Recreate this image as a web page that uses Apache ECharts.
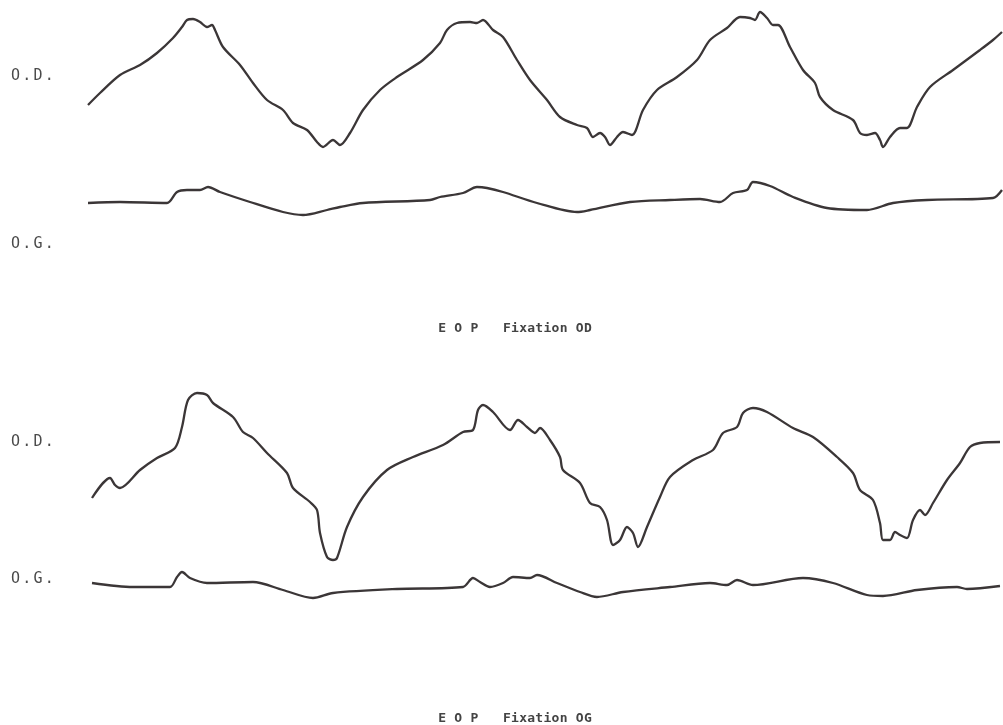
<!DOCTYPE html>
<html>
<head>
<meta charset="utf-8">
<style>
  html, body { margin: 0; padding: 0; background: #ffffff; }
  #chart { width: 1003px; height: 725px; }
</style>
<script src="https://cdn.jsdelivr.net/npm/echarts@6/dist/echarts.min.js"></script>
</head>
<body>
<div id="chart"></div>
<script>
// Traces read from the scanned record: [time, deflection] (deflection measured downward on the page scale)
var fixOD_OD = [[88,105],[100,93],[120,75],[140,65],[157,53],[173,38],[182,27],[187,20],[193,19],[200,22],[207,27],[212,25],[215,30],[223,47],[240,65],[253,83],[267,100],[283,110],[293,123],[307,130],[317,142],[323,147],[333,140],[340,145],[350,133],[363,110],[380,90],[397,77],[423,60],[440,43],[447,30],[457,23],[470,22],[477,23],[483,20],[493,30],[503,37],[517,60],[530,80],[547,100],[560,117],[577,125],[587,128],[593,137],[600,133],[605,137],[610,145],[617,137],[623,132],[632,135],[643,110],[657,90],[677,77],[697,60],[710,40],[727,28],[740,17],[750,18],[755,20],[760,12],[767,18],[773,25],[778,25],[790,47],[803,70],[815,83],[820,97],[833,110],[853,120],[860,133],[867,135],[875,133],[880,140],[883,147],[890,137],[900,128],[907,128],[917,107],[930,87],[953,70],[980,50],[993,40],[1002,32]];
var fixOD_OG = [[88,203],[120,202],[167,203],[177,192],[187,190],[200,190],[208,187],[220,192],[250,202],[283,212],[303,215],[327,210],[340,207],[363,203],[430,200],[440,197],[463,193],[477,187],[487,188],[503,192],[537,203],[577,212],[590,210],[630,202],[670,200],[700,199],[720,202],[733,193],[747,190],[753,182],[770,186],[793,197],[827,208],[867,210],[893,203],[927,200],[993,198],[1002,190]];
var fixOG_OD = [[92,498],[110,478],[115,485],[120,488],[140,470],[157,458],[175,448],[182,427],[188,400],[197,393],[207,395],[213,403],[233,417],[243,432],[253,438],[267,453],[287,473],[293,488],[310,502],[317,510],[320,533],[327,557],[333,560],[337,558],[347,527],[363,497],[387,470],[413,457],[443,445],[463,432],[473,430],[478,410],[483,405],[493,412],[510,430],[518,420],[527,427],[535,433],[540,428],[550,440],[560,457],[563,470],[580,483],[590,503],[600,507],[607,520],[613,545],[620,540],[627,527],[633,533],[638,547],[647,527],[660,497],[670,477],[693,460],[713,450],[723,433],[737,427],[743,413],[753,408],[767,412],[793,428],[813,437],[837,457],[853,473],[860,490],[873,500],[880,523],[883,540],[890,540],[895,532],[900,535],[907,538],[913,520],[920,510],[925,515],[933,503],[947,480],[960,463],[970,447],[980,443],[1000,442]];
var fixOG_OG = [[92,583],[133,587],[170,587],[177,577],[182,572],[190,578],[207,583],[253,582],[283,590],[313,598],[333,593],[397,589],[463,587],[473,578],[480,582],[490,587],[503,583],[513,577],[530,578],[537,575],[557,583],[580,592],[597,597],[623,592],[670,587],[710,583],[727,585],[737,580],[753,585],[803,578],[833,583],[867,595],[883,596],[917,590],[957,587],[967,589],[1000,586]];

var channelLabels = ['O.D.', 'O.G.', 'O.D.', 'O.G.'];
var panelTitles = ['E O P   Fixation OD', 'E O P   Fixation OG'];

var ink = '#3b3637';
var mono = '"DejaVu Sans Mono", "Liberation Mono", monospace';

var chart = echarts.init(document.getElementById('chart'), null, { renderer: 'canvas' });

function traceSeries(name, data) {
  return {
    name: name, type: 'line', data: data, smooth: 0.3, symbol: 'none',
    lineStyle: { color: ink, width: 2.3 }, silent: true, animation: false
  };
}

// spaced typewriter text: every character in a fixed-width cell
function spaced(str) {
  return str.split('').map(function (ch) { return '{c|' + (ch === ' ' ? '\u00a0' : ch) + '}'; }).join('');
}

function txt(str, left, top, size, pitch, weight, color) {
  return { text: spaced(str), left: left, top: top,
    textStyle: { rich: { c: { fontFamily: mono, fontSize: size, fontWeight: weight, color: color,
      width: pitch, align: 'center' } } } };
}

chart.setOption({
  backgroundColor: '#ffffff',
  animation: false,
  title: [
    txt(channelLabels[0], 5, 64, 15, 11.2, 'normal', '#4a4a4a'),
    txt(channelLabels[1], 5, 232, 15, 11.2, 'normal', '#4a4a4a'),
    txt(channelLabels[2], 5, 430, 15, 11.2, 'normal', '#4a4a4a'),
    txt(channelLabels[3], 5, 567, 15, 11.2, 'normal', '#4a4a4a'),
    txt(panelTitles[0], 433, 317, 13, 8.1, 'bold', '#444444'),
    txt(panelTitles[1], 433, 707, 13, 8.1, 'bold', '#444444')
  ],
  grid: { left: 0, right: 0, top: 0, bottom: 0 },
  xAxis: { type: 'value', min: 0, max: 1003, show: false },
  yAxis: { type: 'value', min: 0, max: 725, inverse: true, show: false },
  series: [
    traceSeries('Fixation OD - O.D.', fixOD_OD),
    traceSeries('Fixation OD - O.G.', fixOD_OG),
    traceSeries('Fixation OG - O.D.', fixOG_OD),
    traceSeries('Fixation OG - O.G.', fixOG_OG)
  ]
});
</script>
</body>
</html>
